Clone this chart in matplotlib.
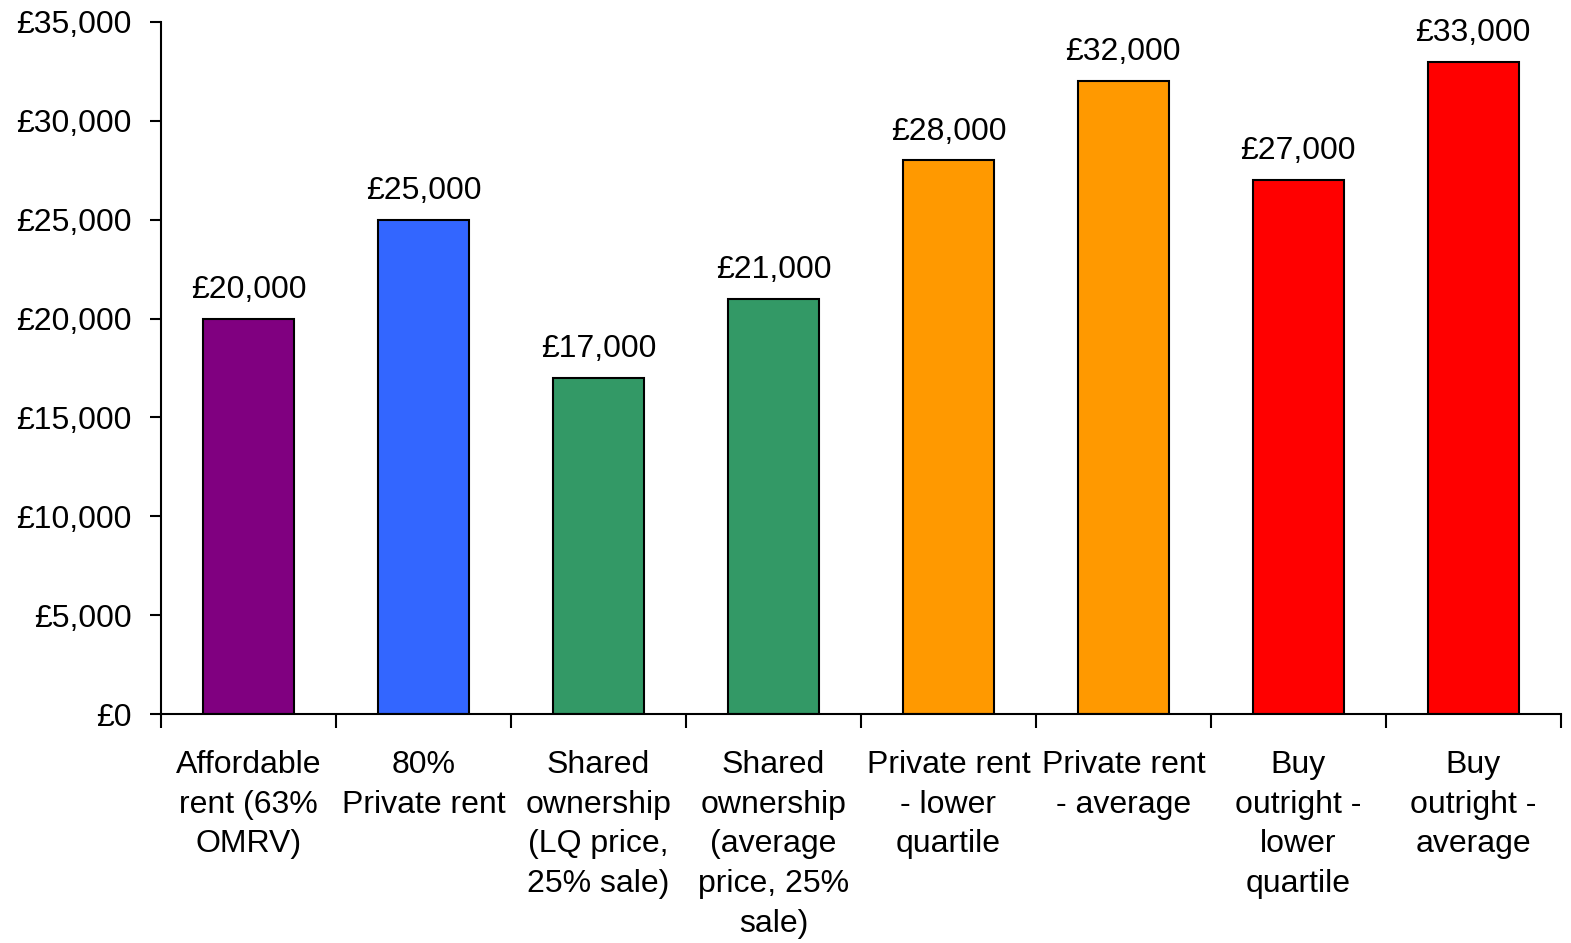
import matplotlib
matplotlib.use('Agg')
import matplotlib.pyplot as plt
from matplotlib.ticker import FuncFormatter, FixedLocator

plt.rcParams['font.family'] = ['Liberation Sans', 'DejaVu Sans']

categories = ['Affordable\nrent (63%\nOMRV)', '80%\nPrivate rent',
              'Shared\nownership\n(LQ price,\n25% sale)',
              'Shared\nownership\n(average\nprice, 25%\nsale)',
              'Private rent\n- lower\nquartile', 'Private rent\n- average',
              'Buy\noutright -\nlower\nquartile', 'Buy\noutright -\naverage']
values = [20000, 25000, 17000, 21000, 28000, 32000, 27000, 33000]
colors = ['#800080', '#3366FF', '#339966', '#339966',
          '#FF9900', '#FF9900', '#FF0000', '#FF0000']

fig = plt.figure(figsize=(15.71, 9.43), dpi=100)
ax = fig.add_axes([0.1025, 0.2428, 0.891, 0.7339])

x = list(range(len(values)))
ax.bar(x, values, width=0.52, color=colors, edgecolor='black', linewidth=1.5)

for xi, v in zip(x, values):
    ax.text(xi, v + 700, '£{:,}'.format(v), ha='center', va='bottom', fontsize=23)

ax.set_xlim(-0.5, len(values) - 0.5)
ax.set_ylim(0, 35000)
ax.set_yticks(range(0, 35001, 5000))
ax.yaxis.set_major_formatter(FuncFormatter(lambda v, p: '£{:,}'.format(int(v))))

ax.set_xticks(x)
ax.set_xticklabels(categories, fontsize=23, linespacing=1.42)
ax.xaxis.set_minor_locator(FixedLocator([i + 0.5 for i in range(-1, len(values))]))
ax.tick_params(axis='x', which='major', length=0, pad=26)
ax.tick_params(axis='x', which='minor', length=10, width=1.5, direction='out')
ax.tick_params(axis='y', labelsize=23, length=8, width=1.5, pad=13)

ax.spines['top'].set_visible(False)
ax.spines['right'].set_visible(False)
ax.spines['left'].set_linewidth(1.5)
ax.spines['bottom'].set_linewidth(1.5)

fig.savefig('out.png', dpi=100)
